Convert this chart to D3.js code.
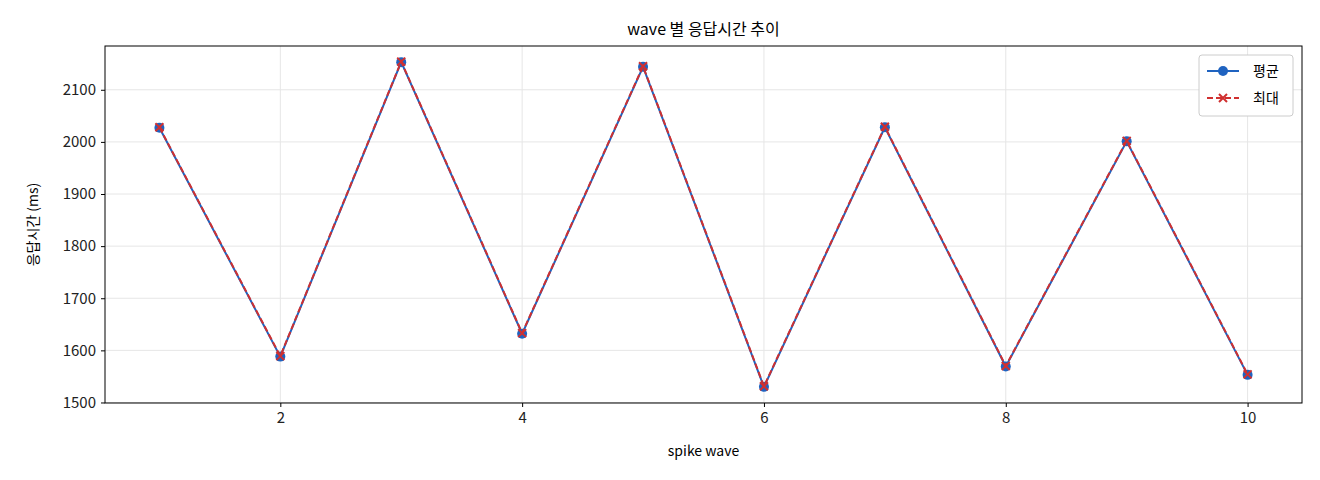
<!DOCTYPE html>
<html><head><meta charset="utf-8">
<script src="https://cdn.jsdelivr.net/npm/d3@7"></script>
<style>body{margin:0;background:#fff}text{font-family:"Noto Sans CJK KR","DejaVu Sans",sans-serif}</style>
</head><body><svg id="c" width="1320" height="480"></svg>
<script>
const waves=[1,2,3,4,5,6,7,8,9,10];
const avgVals=[2027,1588,2153,1632,2144,1530,2028,1569,2001,1553];
const maxVals=[2028,1589,2154,1633,2145,1531,2029,1570,2002,1554];
const xTicks=[2,4,6,8,10];
const yTicks=[1500,1600,1700,1800,1900,2000,2100];
const svg=d3.select("#c");
const L=105,R=1302,T=46,B=403;
const x=d3.scaleLinear().domain([0.55,10.45]).range([L,R]);
const y=d3.scaleLinear().domain([1499,2184]).range([B,T]);
const g=svg.append("g");
g.selectAll(".gx").data(xTicks).enter().append("line").attr("x1",d=>x(d)).attr("x2",d=>x(d)).attr("y1",T).attr("y2",B).attr("stroke","#e6e6e6");
g.selectAll(".gy").data(yTicks).enter().append("line").attr("y1",d=>y(d)).attr("y2",d=>y(d)).attr("x1",L).attr("x2",R).attr("stroke","#e6e6e6");
svg.append("g").attr("transform",`translate(0,${B})`).call(d3.axisBottom(x).tickValues(xTicks).tickFormat(d3.format("d")).tickSize(4).tickPadding(5)).call(a=>{a.select(".domain").remove();a.selectAll("text").attr("font-size",15).attr("fill","#222")});
svg.append("g").attr("transform",`translate(${L},0)`).call(d3.axisLeft(y).tickValues(yTicks).tickFormat(d3.format("d")).tickSize(4).tickPadding(5)).call(a=>{a.select(".domain").remove();a.selectAll("text").attr("font-size",15).attr("fill","#222")});
svg.append("rect").attr("x",L).attr("y",T).attr("width",R-L).attr("height",B-T).attr("fill","none").attr("stroke","#000");
const line=d3.line().x((d,i)=>x(waves[i])).y(d=>y(d));
svg.append("path").datum(avgVals).attr("d",line).attr("fill","none").attr("stroke","#1f63c0").attr("stroke-width",2);
svg.selectAll(".pa").data(avgVals).enter().append("circle").attr("cx",(d,i)=>x(waves[i])).attr("cy",d=>y(d)).attr("r",5).attr("fill","#1f63c0");
svg.append("path").datum(maxVals).attr("d",line).attr("fill","none").attr("stroke","#d03030").attr("stroke-width",2).attr("stroke-dasharray","6,3");
const cross=(s,cx,cy)=>s.append("path").attr("d",`M${cx-4},${cy-4}L${cx+4},${cy+4}M${cx-4},${cy+4}L${cx+4},${cy-4}`).attr("stroke","#d03030").attr("stroke-width",2);
maxVals.forEach((d,i)=>cross(svg,x(waves[i]),y(d)));
svg.append("text").attr("x",(L+R)/2).attr("y",35).attr("text-anchor","middle").attr("font-size",16).text("wave 별 응답시간 추이");
svg.append("text").attr("x",(L+R)/2).attr("y",456).attr("text-anchor","middle").attr("font-size",14).text("spike wave");
svg.append("text").attr("transform",`translate(38,${(T+B)/2}) rotate(-90)`).attr("text-anchor","middle").attr("font-size",14).text("응답시간 (ms)");
const lg=svg.append("g").attr("transform","translate(1199,55)");
lg.append("rect").attr("width",94).attr("height",61).attr("rx",3).attr("fill","#fff").attr("stroke","#ccc");
lg.append("line").attr("x1",8).attr("x2",40).attr("y1",16).attr("y2",16).attr("stroke","#1f63c0").attr("stroke-width",2);
lg.append("circle").attr("cx",24).attr("cy",16).attr("r",5).attr("fill","#1f63c0");
lg.append("text").attr("x",54).attr("y",21).attr("font-size",14).text("평균");
lg.append("line").attr("x1",8).attr("x2",40).attr("y1",43).attr("y2",43).attr("stroke","#d03030").attr("stroke-width",2).attr("stroke-dasharray","6,3");
cross(lg,24,43);
lg.append("text").attr("x",54).attr("y",48).attr("font-size",14).text("최대");
</script></body></html>
